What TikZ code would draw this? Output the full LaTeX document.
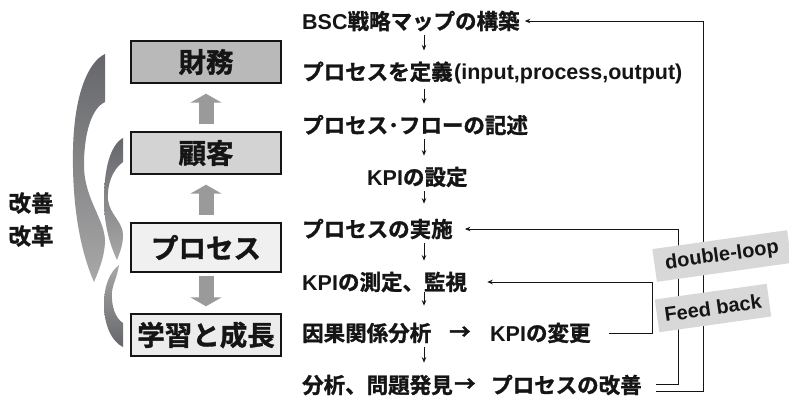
\documentclass[tikz,border=0pt]{standalone}
\usepackage{fontspec}
\setmainfont{Noto Sans CJK JP}[BoldFont={Noto Sans CJK JP Bold}, BoldFeatures={FakeBold=1.3}]
\newfontfamily\lat{Liberation Sans}
\usetikzlibrary{arrows.meta,calc}
\definecolor{txt}{HTML}{151515}
\definecolor{boxA}{HTML}{B9B9B9}
\definecolor{boxB}{HTML}{D3D3D3}
\definecolor{boxC}{HTML}{F0F0F0}
\definecolor{boxD}{HTML}{ECECEC}
\definecolor{blkc}{HTML}{9A9A9A}
\definecolor{swd}{HTML}{65666A}
\definecolor{swl}{HTML}{A8A8A8}
\definecolor{labc}{HTML}{D8D8D8}
\tikzset{
  pbox/.style={draw=txt, line width=1.4pt, minimum width=150pt, minimum height=42pt, inner sep=0pt, text=txt, font=\bfseries\fontsize{27.5}{30}\selectfont},
  ftxt/.style={anchor=west, inner sep=0pt, text=txt, font=\bfseries\fontsize{21.5}{24}\selectfont},
  side/.style={inner sep=0pt, text=txt, font=\bfseries\fontsize{22.5}{26}\selectfont},
  blk/.style={draw=blkc, line width=15pt, -{Triangle[width=31pt,length=9pt]}},
  flow/.style={draw=txt, line width=0.9pt, -{Stealth[length=5.5pt,width=4.5pt]}},
  fbar/.style={draw=txt, line width=0.9pt, -{Stealth[length=5.5pt,width=4.5pt]}},
  lab/.style={fill=labc, inner sep=0pt, text=txt, font=\lat\bfseries\fontsize{20}{24}\selectfont, rotate=8},
}
\newcommand{\lt}[1]{{\lat\bfseries #1}}
\begin{document}
\begin{tikzpicture}[x=1pt,y=-1pt]
\useasboundingbox (0,0) rectangle (789,398);
\fill[white] (0,0) rectangle (789,398);

% swooshes
\shade[top color=swd, bottom color=swl]
  (105,54) -- (105,102) .. controls (92,108) and (84,132) .. (84,165)
  .. controls (84,200) and (106,220) .. (105,243)
  .. controls (104,258) and (99,270) .. (94,282)
  .. controls (80,250) and (72,205) .. (73,150)
  .. controls (74,95) and (88,62) .. (105,54) -- cycle;
\shade[top color=swd, bottom color=swl]
  (123,138) -- (123,162) .. controls (112,170) and (107,185) .. (108,200)
  .. controls (110,215) and (123,222) .. (123,235)
  .. controls (123,245) and (120,252) .. (117,260)
  .. controls (110,245) and (104,225) .. (104,200)
  .. controls (104,170) and (110,145) .. (123,138) -- cycle;
\shade[top color=swl, bottom color=swd]
  (123,347) -- (123,323) .. controls (115,318) and (111,305) .. (112,292)
  .. controls (113,283) and (117,278) .. (119,265)
  .. controls (110,272) and (104,285) .. (104,305)
  .. controls (104,325) and (112,342) .. (123,347) -- cycle;

% left boxes
\node[pbox, fill=boxA] (zaimu) at (206,62) {財務};
\node[pbox, fill=boxB] (kokyaku) at (206,153) {顧客};
\node[pbox, fill=boxC, line width=2pt, minimum height=49pt] (process) at (206,247.5) {プロセス};
\node[pbox, fill=boxD] (gakushu) at (206,335) {学習と成長};

\draw[blk] ($(kokyaku.north)+(0,-7)$) -- ($(zaimu.south)+(0,10)$);
\draw[blk] ($(process.north)+(0,-7)$) -- ($(kokyaku.south)+(0,10)$);
\draw[blk] ($(process.south)+(0,3)$) -- ($(gakushu.north)+(0,-7)$);

\node[side] (kaizen) at (31,203) {改善};
\node[side] (kaikaku) at (31,236) {改革};

% flow texts
\node[ftxt] (n1) at (302,21) {\lt{BSC}戦略マップの構築};
\node[ftxt] (n2) at (302,73) {プロセスを定義\kern1.5pt\lt{(input,process,output)}};
\node[ftxt] (n3) at (302,125) {プロセス･フローの記述};
\node[ftxt] (n4) at (367,177) {\lt{KPI}の設定};
\node[ftxt] (n5) at (302,229) {プロセスの実施};
\node[ftxt] (n6) at (302,282) {\lt{KPI}の測定、監視};
\node[ftxt] (n7) at (302,333) {因果関係分析};
\node[ftxt] (a7) at (449,333) {→};
\node[ftxt] (n7b) at (490,333) {\lt{KPI}の変更};
\node[ftxt] (n8) at (302,385) {分析、問題発見};
\node[ftxt] (a8) at (454,385) {→};
\node[ftxt] (n8b) at (491,385) {プロセスの改善};

\coordinate (xa) at (424,0);
\draw[flow] ($(n1.south -| xa)+(0,4)$) -- ($(n2.north -| xa)+(0,-11)$);
\draw[flow] ($(n2.south -| xa)+(0,4)$) -- ($(n3.north -| xa)+(0,-11)$);
\draw[flow] ($(n3.south -| xa)+(0,4)$) -- ($(n4.north -| xa)+(0,-11)$);
\draw[flow] ($(n4.south -| xa)+(0,4)$) -- ($(n5.north -| xa)+(0,-15)$);
\draw[flow] ($(n5.south -| xa)+(0,4)$) -- ($(n6.north -| xa)+(0,-11)$);
\draw[flow] ($(n6.south -| xa)+(0,0)$) -- ($(n7.north -| xa)+(0,-17)$);
\draw[flow] ($(n7.south -| xa)+(0,4)$) -- ($(n8.north -| xa)+(0,-12)$);

% feedback loops
\coordinate (c1) at (652,0);
\coordinate (c2) at (678,0);
\coordinate (c3) at (703,0);
\draw[fbar] ([xshift=18pt]n7b.east) -| (c1 |- n6.east) -- ([xshift=20pt]n6.east);
\draw[fbar] ([xshift=14pt,yshift=1pt]n8b.east) -| (c2 |- n5.east) -- ([xshift=12pt]n5.east);
\draw[fbar] ([xshift=14pt,yshift=-6pt]n8b.east) -| (c3 |- n1.east) -- ([xshift=5pt]n1.east);

\node[lab, minimum width=136pt, minimum height=33pt] (dl) at (722,256) {double-loop};
\node[lab, minimum width=113pt, minimum height=33pt] (fbk) at (713,308) {Feed back};
\end{tikzpicture}
\end{document}
